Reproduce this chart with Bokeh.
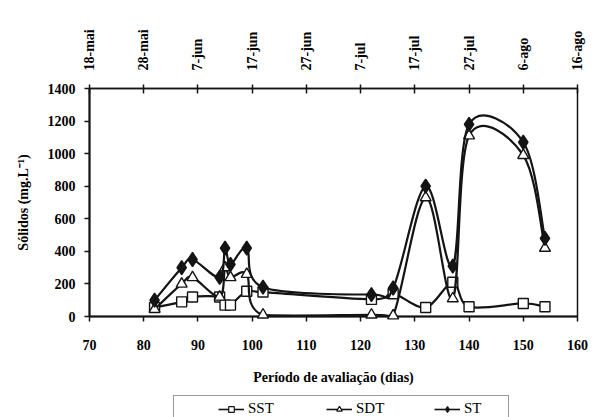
import numpy as np
from bokeh.plotting import figure
from bokeh.layouts import column
from bokeh.models import LinearAxis, FixedTicker, Legend, LegendItem, Range1d, ColumnDataSource
from bokeh.embed import file_html
from bokeh.resources import INLINE

# ---- data ----
days = [82, 87, 89, 94, 95, 96, 99, 102, 122, 126, 132, 137, 140, 150, 154]
sst = [55, 90, 120, 120, 70, 70, 155, 150, 105, 140, 55, 210, 60, 80, 60]
sdt = [45, 200, 240, 120, 300, 240, 260, 10, 10, 5, 730, 110, 1110, 990, 420]
st = [100, 300, 350, 240, 420, 320, 420, 180, 135, 175, 800, 310, 1180, 1070, 480]

x_ticks = [70, 80, 90, 100, 110, 120, 130, 140, 150, 160]
date_labels = ["18-mai", "28-mai", "7-jun", "17-jun", "27-jun",
               "7-jul", "17-jul", "27-jul", "6-ago", "16-ago"]
y_ticks = [0, 200, 400, 600, 800, 1000, 1200, 1400]

FONT = "Liberation Serif"
INK = "#141414"


def smooth_source(x, y):
    """Bezier control points (Excel-like smoothed line) computed from the data."""
    x = np.asarray(x, float)
    y = np.asarray(y, float)
    n = len(x)
    xp = np.concatenate([[x[0]], x, [x[-1]]])
    yp = np.concatenate([[y[0]], y, [y[-1]]])
    x0, y0, x1, y1 = x[:-1], y[:-1], x[1:], y[1:]
    cx0 = x0 + (xp[2:n + 1] - xp[0:n - 1]) / 6.0
    cy0 = np.clip(y0 + (yp[2:n + 1] - yp[0:n - 1]) / 6.0, 0, None)
    cx1 = x1 - (xp[3:n + 2] - xp[1:n]) / 6.0
    cy1 = np.clip(y1 - (yp[3:n + 2] - yp[1:n]) / 6.0, 0, None)
    return ColumnDataSource(dict(x0=x0, y0=y0, x1=x1, y1=y1,
                                 cx0=cx0, cy0=cy0, cx1=cx1, cy1=cy1))


p = figure(width=601, height=393, output_backend="svg", toolbar_location=None,
           x_range=Range1d(70, 160), y_range=Range1d(0, 1400),
           min_border_left=89, min_border_right=24, min_border_top=88,
           min_border_bottom=77)
p.background_fill_color = "white"
p.border_fill_color = "white"
p.outline_line_color = INK
p.outline_line_width = 1.5
p.xgrid.visible = False
p.ygrid.visible = False

# bottom axis
xa = p.xaxis[0]
xa.ticker = FixedTicker(ticks=x_ticks)
xa.axis_label = "Período de avaliação (dias)"
# left axis
ya = p.yaxis[0]
ya.ticker = FixedTicker(ticks=y_ticks)
ya.axis_label = "Sólidos (mg.L⁻¹)"

# top (date) axis
top = LinearAxis(ticker=FixedTicker(ticks=x_ticks),
                 major_label_overrides={t: lab for t, lab in zip(x_ticks, date_labels)},
                 major_label_orientation="vertical")
p.add_layout(top, "above")

for ax in (xa, ya, top):
    ax.axis_line_color = INK
    ax.axis_line_width = 2
    ax.major_tick_line_color = INK
    ax.major_tick_line_width = 1.5
    ax.minor_tick_line_color = None
    ax.major_label_text_font = FONT
    ax.major_label_text_font_style = "bold"
    ax.major_label_text_font_size = "14px"
    ax.major_label_text_color = "black"
    ax.axis_label_text_font = FONT
    ax.axis_label_text_font_style = "bold"
    ax.axis_label_text_font_size = "14px"
    ax.axis_label_text_color = "black"

xa.major_tick_in = 0
xa.major_tick_out = 5
xa.major_label_standoff = 18
xa.axis_label_standoff = 17
ya.major_tick_in = 0
ya.major_tick_out = 5
ya.major_label_standoff = 9
ya.axis_label_standoff = 14
top.major_tick_in = 5
top.major_tick_out = 4
top.major_label_standoff = 14
top.axis_line_width = 1.5

series = [
    ("SST", sst, "square", "white", 10),
    ("SDT", sdt, "triangle", "white", 11),
    ("ST", st, "diamond", INK, 14),
]

# legend strip below the chart (its own small figure; the series there lie outside its view)
lp = figure(width=601, height=24, output_backend="svg", toolbar_location=None,
            x_axis_type=None, y_axis_type=None,
            x_range=Range1d(0, 1), y_range=Range1d(0, 1),
            min_border_left=0, min_border_right=0, min_border_top=0, min_border_bottom=0)
lp.outline_line_color = None
lp.background_fill_color = "white"
lp.border_fill_color = "white"

items = []
for name, vals, marker, fill, size in series:
    src = smooth_source(days, vals)
    p.bezier(x0="x0", y0="y0", x1="x1", y1="y1", cx0="cx0", cy0="cy0",
             cx1="cx1", cy1="cy1", source=src, line_color=INK, line_width=2.2,
             level="overlay")
    p.scatter(x=days, y=vals, marker=marker, size=size, fill_color=fill,
              line_color=INK, line_width=1.4, level="overlay")
    ll = lp.line(x=days, y=vals, line_color=INK, line_width=1.6)
    ls = lp.scatter(x=days, y=vals, marker=marker, size=size, fill_color=fill,
                    line_color=INK, line_width=1.2)
    items.append(LegendItem(label=name, renderers=[ll, ls]))

legend = Legend(items=items, orientation="horizontal", location=(84, -5),
                title=" ", title_location="left", title_standoff=25,
                padding=4, margin=0, spacing=38, glyph_width=26, glyph_height=14,
                label_standoff=4, label_width=40, label_height=14,
                label_text_font=FONT, label_text_font_size="15px",
                label_text_color="black",
                border_line_color="#333333", border_line_width=1,
                background_fill_color="white", background_fill_alpha=1.0)
lp.add_layout(legend, "center")

layout = column(p, lp, spacing=0)
open("out.html", "w").write(file_html(layout, INLINE))
